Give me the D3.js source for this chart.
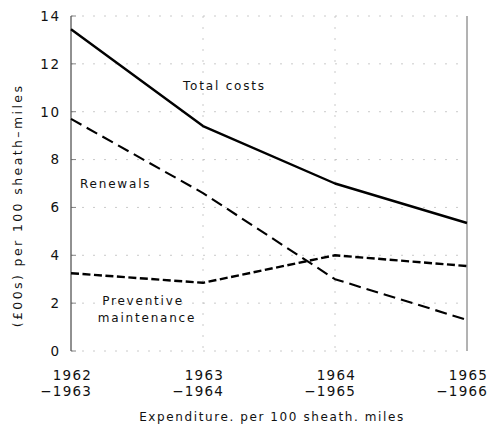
<!DOCTYPE html>
<html>
<head>
<meta charset="utf-8">
<script src="https://cdn.jsdelivr.net/npm/d3@7"></script>
<style>
  html, body { margin: 0; padding: 0; background: #fff; }
  svg { display: block; }
  text { font-family: "DejaVu Sans", sans-serif; fill: #111; }
</style>
</head>
<body>
<svg id="chart" width="495" height="428"></svg>
<script>
// Financial years along the x axis (first and second line of each label)
const yearStart = ["1962", "1963", "1964", "1965"];
const yearEnd = ["\u22121963", "\u22121964", "\u22121965", "\u22121966"];

// Expenditure, £00s per 100 sheath-miles
const totalCosts = [13.45, 9.4, 7.0, 5.35];
const renewals = [9.7, 6.6, 3.0, 1.3];
const preventive = [3.25, 2.85, 4.0, 3.55];

const yTicks = [0, 2, 4, 6, 8, 10, 12, 14];

const W = 495, H = 428;
const margin = { top: 16, right: 28, bottom: 77, left: 71 };

const svg = d3.select("#chart");

const x = d3.scalePoint()
  .domain(yearStart)
  .range([margin.left, W - margin.right]);

const y = d3.scaleLinear()
  .domain([0, 14])
  .range([H - margin.bottom, margin.top]);

const x0 = margin.left, x1 = W - margin.right;
const y0 = H - margin.bottom, y1 = margin.top;

// Faint, broken grid
const grid = svg.append("g")
  .attr("stroke", "#bdbdbd")
  .attr("stroke-width", 0.8)
  .attr("stroke-dasharray", "2,9")
  .attr("fill", "none");

grid.selectAll("line.h")
  .data(yTicks.filter(d => d > 0 && d < 14))
  .join("line")
  .attr("x1", x0).attr("x2", x1)
  .attr("y1", d => y(d)).attr("y2", d => y(d));

grid.selectAll("line.v")
  .data(yearStart.slice(1, -1))
  .join("line")
  .attr("x1", d => x(d)).attr("x2", d => x(d))
  .attr("y1", y1).attr("y2", y0);

// Top and bottom frame edges
grid.append("line").attr("x1", x0).attr("x2", x1).attr("y1", y1).attr("y2", y1);
grid.append("line").attr("x1", x0).attr("x2", x1).attr("y1", y0).attr("y2", y0);

// Left axis and right frame edge
svg.append("line")
  .attr("x1", x0).attr("x2", x0).attr("y1", y1).attr("y2", y0)
  .attr("stroke", "#222").attr("stroke-width", 1);
svg.append("line")
  .attr("x1", x1).attr("x2", x1).attr("y1", y1).attr("y2", y0)
  .attr("stroke", "#666").attr("stroke-width", 1);

// Short ticks inside the left axis
svg.append("g").selectAll("line")
  .data(yTicks)
  .join("line")
  .attr("x1", x0).attr("x2", x0 + 5)
  .attr("y1", d => y(d)).attr("y2", d => y(d))
  .attr("stroke", "#666").attr("stroke-width", 0.8);

// Y tick labels
svg.append("g").selectAll("text")
  .data(yTicks)
  .join("text")
  .attr("x", x0 - 10)
  .attr("y", d => y(d))
  .attr("dy", "0.36em")
  .attr("text-anchor", "end")
  .attr("font-size", 13.5)
  .attr("letter-spacing", 1.8)
  .text(d => d);

// X tick labels (two lines, right-aligned just past each tick)
const xl = svg.append("g").selectAll("text")
  .data(yearStart)
  .join("text")
  .attr("text-anchor", "end")
  .attr("font-size", 13.5)
  .attr("letter-spacing", 1.2);
xl.append("tspan")
  .attr("x", d => x(d) + 21)
  .attr("y", y0 + 29)
  .text(d => d);
xl.append("tspan")
  .attr("x", d => x(d) + 21)
  .attr("y", y0 + 45)
  .text((d, i) => yearEnd[i]);

// Axis titles
svg.append("text")
  .attr("x", (x0 + x1) / 2 + 3)
  .attr("y", H - 7)
  .attr("text-anchor", "middle")
  .attr("font-size", 12)
  .attr("letter-spacing", 1.6)
  .text("Expenditure. per 100  sheath. miles");

svg.append("text")
  .attr("transform", `translate(22, ${(y0 + y1) / 2 + 22}) rotate(-90)`)
  .attr("text-anchor", "middle")
  .attr("font-size", 12.5)
  .attr("letter-spacing", 2.4)
  .text("(\u00a300s)  per  100  sheath\u2013miles");

// Series lines
const line = d3.line()
  .x((d, i) => x(yearStart[i]))
  .y(d => y(d));

const series = [
  { values: totalCosts, dash: null, width: 2.4 },
  { values: renewals, dash: "12,6", width: 2.1 },
  { values: preventive, dash: "8,3.5", width: 2.4 }
];

svg.append("g").selectAll("path")
  .data(series)
  .join("path")
  .attr("d", d => line(d.values))
  .attr("fill", "none")
  .attr("stroke", "#000")
  .attr("stroke-width", d => d.width)
  .attr("stroke-dasharray", d => d.dash)
  .attr("stroke-linejoin", "round");

// Series labels
const labels = svg.append("g")
  .attr("font-size", 12)
  .attr("letter-spacing", 1.8);

labels.append("text")
  .attr("x", 183).attr("y", 90)
  .text("Total costs");

labels.append("text")
  .attr("x", 80).attr("y", 188)
  .text("Renewals");

const pm = labels.append("text").attr("text-anchor", "middle");
pm.append("tspan").attr("x", 143).attr("y", 305).text("Preventive");
pm.append("tspan").attr("x", 147).attr("y", 322).text("maintenance");
</script>
</body>
</html>
